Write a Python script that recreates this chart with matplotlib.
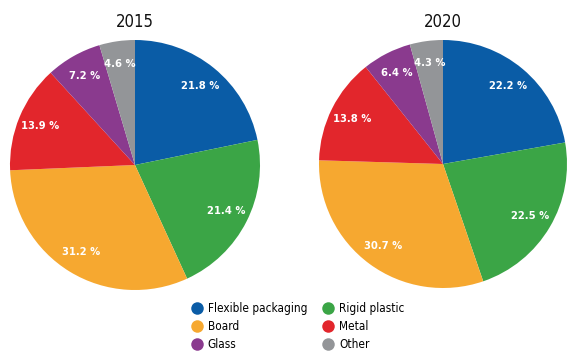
import matplotlib.pyplot as plt
from matplotlib.lines import Line2D

# Shares of packaging materials, in percent
categories = ['Flexible packaging', 'Rigid plastic', 'Board', 'Metal', 'Glass', 'Other']
shares_2015 = [21.8, 21.4, 31.2, 13.9, 7.2, 4.6]
shares_2020 = [22.2, 22.5, 30.7, 13.8, 6.4, 4.3]
years = ['2015', '2020']
colors = ['#0a5ca6', '#3ba546', '#f6a830', '#e2262c', '#8a3a8e', '#939598']

font = dict(family='DejaVu Sans', stretch='condensed')
W, H = 567, 352

fig = plt.figure(figsize=(W / 100, H / 100), dpi=100)


def add_pie(values, year, cx, cy, r):
    ax = fig.add_axes([(cx - r) / W, (H - cy - r) / H, 2 * r / W, 2 * r / H])
    wedges, texts, autotexts = ax.pie(
        values, colors=colors, startangle=90, counterclock=False, radius=1,
        autopct='%1.1f', pctdistance=0.82,
        textprops=dict(color='white', fontweight='bold', fontsize=8, **font),
        wedgeprops=dict(linewidth=0))
    # label with the stated value rather than the recomputed share
    for t, v in zip(autotexts, values):
        t.set_text(f'{v:.1f} %')
    ax.set_xlim(-1, 1)
    ax.set_ylim(-1, 1)
    fig.text(cx / W, 1 - 22 / H, year, ha='center', va='center',
             fontsize=12, color='#111111', **font)


add_pie(shares_2015, years[0], 135, 165, 125)
add_pie(shares_2020, years[1], 443, 164, 124)

# legend: two columns, filled column by column
order = [0, 2, 4, 1, 3, 5]
handles = [Line2D([], [], marker='o', linestyle='none', markersize=9,
                  markerfacecolor=colors[i], markeredgewidth=0) for i in order]
labels = [categories[i] for i in order]
fig.legend(handles, labels, ncol=2, loc='upper left',
           bbox_to_anchor=(190 / W, 1 - 302 / H), frameon=False,
           prop=dict(size=8.5, **font), handletextpad=0.3,
           columnspacing=1.2, labelspacing=0.42, handlelength=1.2,
           borderpad=0, borderaxespad=0)

fig.savefig('out.png', dpi=100, facecolor='white')
